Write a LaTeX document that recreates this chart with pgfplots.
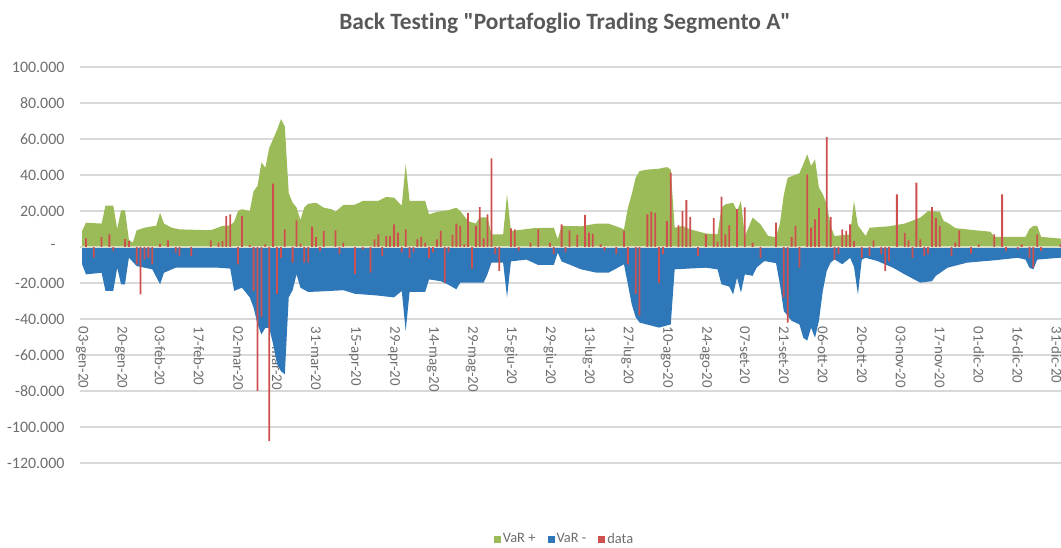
\documentclass[border=0pt]{standalone}
\usepackage{fontspec}
\setmainfont{Carlito}[Ligatures={TeXOff,NoCommon}]
\usepackage{pgfplots}
\usepackage{pgfplotstable}
\pgfplotsset{compat=1.18}
\definecolor{vgreen}{RGB}{155,187,89}
\definecolor{vblue}{RGB}{46,120,185}
\definecolor{vred}{RGB}{205,80,78}
\definecolor{tgrey}{RGB}{89,89,89}
\definecolor{lgrey}{RGB}{110,110,110}
\definecolor{ggrey}{RGB}{217,217,217}
\definecolor{zline}{RGB}{215,222,200}

\pgfplotstableread{
i v
0 8.9
1 13.5
5 13
6 23
8 23
9 10
10 20.4
11 20.4
12 4
13 2.4
14 9.3
16 10.7
18 11.5
19 11.7
20 19
21 13
23 10.7
25 9.8
33 9.3
36 11.7
38 12
39 14
40 20
41 21
43 20
44 31
45 34
46 47
47 44
48 55
49 60
50 65
51 71
52 67
53 30
54 24.6
55 22
56 15
57 22
58 24
60 24.6
62 21.8
64 21
65 19.6
67 23.3
70 23.5
72 25.6
76 25.6
78 27.8
80 27.4
82 23
83 46
84 25.6
88 25.6
89 18.1
91 19.5
94 20.5
96 21.8
97 20
99 14.4
101 13
102 16.5
104 16.5
105 7
108 7
109 29.3
110 8.9
116 10.5
121 10.7
122 4.3
123 11.7
128 11.5
132 13
135 13
138 10.7
139 9.8
140 21.8
141 29.3
142 38.5
143 42.2
145 43
148 43.5
150 44.4
151 43
152 10.7
154 11.7
156 9.8
160 7.5
163 7
164 21.8
165 23.7
167 24.6
168 20
169 25.6
170 6
172 16.3
174 12.6
176 6.1
178 5.5
179 13
180 29
181 38.5
184 41
185 46
186 51.5
187 45
188 48.7
189 33
190 29.3
191 23.7
192 11.7
193 6.1
197 7
198 25.6
199 12
201 6.1
202 10.7
207 11.5
211 13
215 16.3
217 20
220 19.6
221 14.4
222 13.5
224 10.5
229 9.3
233 8.5
234 5.6
242 5.6
243 10
244 11.7
245 11.7
246 5.6
253 4.3
}\varplus

\pgfplotstableread{
i v
0 -9.6
1 -15.2
5 -14.3
6 -24.4
8 -24.4
9 -11.5
10 -20.7
11 -20.7
12 -5.9
14 -10.6
18 -12.4
20 -20.7
21 -14.3
24 -11.5
35 -11.5
38 -12
39 -24.4
41 -22.6
43 -28
44 -33.7
45 -43
46 -48.5
47 -45
48 -45
49 -54
50 -65
51 -69
52 -70.7
53 -28
54 -24
55 -15.2
56 -22.6
58 -25
63 -24.5
67 -24
70 -26
76 -27
80 -28
82 -24.4
83 -46.7
84 -25
88 -25
89 -18
92 -19
94 -21
96 -23.5
97 -19.8
103 -19.8
104 -15
105 -8.7
108 -8.7
109 -28
110 -8
114 -7
117 -10
121 -10
122 -3.1
123 -8
128 -12.4
132 -14.3
135 -14.3
137 -12
139 -9.6
140 -20.7
141 -32
142 -39
143 -42
148 -44.8
151 -43
152 -12.4
160 -11.5
163 -12.4
164 -20.7
166 -22
167 -26.3
168 -17
169 -25.4
170 -15.2
172 -16
173 -11.5
175 -7.8
178 -9
179 -20.7
180 -35.6
182 -41
184 -43
185 -50.4
186 -52
187 -44.8
188 -50.4
189 -41
190 -24.4
191 -13.3
192 -8.7
193 -6.9
195 -9.6
197 -6
198 -11
199 -26.3
200 -7
201 -6
204 -7.8
208 -11.5
211 -15.2
215 -19.8
218 -19
219 -16
222 -11.5
227 -8.7
234 -7.4
240 -6
242 -7
243 -11.5
244 -12.4
245 -7
253 -5.6
}\varminus

\pgfplotstableread{
i v
1 4.8
3 -5.9
5 5.6
7 7
8 -2.2
11 4.4
12 3.3
14 -9.6
15 -26.3
16 -6.9
17 -5.9
18 -9.6
20 1.8
22 3.7
24 -3.1
25 -5
28 -5
33 3.7
35 2.4
36 3.3
37 17.2
38 18.1
40 -9.6
41 17.2
43 1.1
44 -24.4
45 -80
46 -39
47 1.5
48 -107.8
49 35.2
50 -26
51 -6
52 9.8
54 -8.7
55 14.8
56 1.9
57 -8.7
58 -8.7
59 11.3
60 5.6
61 -2.2
62 8.9
65 9.3
66 -4
67 2.4
70 -15
72 -1.5
74 -14.3
75 4.3
76 7
77 -5
78 6.1
79 6.1
80 12.6
81 8
82 -3
83 9.8
84 -6
85 -3
86 4.3
87 5.6
88 2.4
89 -6
90 -3
91 4.3
92 8.9
93 -19.8
94 -3
95 6.7
96 13
97 11.7
98 1.5
99 19
100 -12
101 11.7
102 22.2
103 4.8
104 18.1
105 49.3
106 -4
107 -13.3
110 10.4
111 9.8
112 -2.2
115 2.4
117 9.8
120 2.4
121 -4
123 12.6
124 -3
125 9.3
127 6.7
129 17.8
130 8
131 7.4
133 1.5
134 -2.2
137 -4
139 8.9
140 -9.6
142 -26
143 -38
145 18.1
146 19.6
147 18.9
148 -20
149 -4
150 14.4
151 41.3
153 12
154 20
155 26
156 16.7
158 -5
160 7
162 16
163 3
164 28
165 7
166 12
168 21
170 22
172 2.4
174 -6
178 13.5
180 -28
181 -42
182 5.6
183 11.7
184 -11.5
186 40.4
187 10.7
188 15.4
189 21.8
191 61.1
192 16.7
193 -7
194 -4
195 9.8
196 8.9
197 12.6
198 3.3
200 -6
202 -5
203 3.7
205 -4
206 -13.3
207 -7.8
209 29.3
211 7.8
212 3.7
213 -6
214 35.7
215 4.3
216 -5
217 -4
218 22.2
219 16
220 11.7
223 -5
224 2.4
225 9.3
228 -3.7
230 1.5
234 7
236 29.3
237 -2.2
240 -1.3
241 1.5
243 -6
244 -11.5
245 7
246 -2.2
251 1.5
}\datab

\begin{document}
\begin{tikzpicture}
\begin{axis}[
  at={(80bp,85bp)}, anchor=south west,
  scale only axis, width=981bp, height=396bp,
  xmin=-0.54, xmax=251.1, ymin=-120, ymax=100,
  axis line style={draw=none},
  major tick length=0pt,
  ytick={-120,-100,...,100},
  yticklabels={-120.000,-100.000,-80.000,-60.000,-40.000,-20.000,{-\hspace*{9bp}},20.000,40.000,60.000,80.000,100.000},
  xtick={0,10,...,250},
  xticklabels={03-gen-20,20-gen-20,03-feb-20,17-feb-20,02-mar-20,17-mar-20,31-mar-20,15-apr-20,29-apr-20,14-mag-20,29-mag-20,15-giu-20,29-giu-20,13-lug-20,27-lug-20,10-ago-20,24-ago-20,07-set-20,21-set-20,06-ott-20,20-ott-20,03-nov-20,17-nov-20,01-dic-20,16-dic-20,31-dic-20},
  ymajorgrids, grid style={draw=ggrey, line width=1.2bp},
  tick label style={text=lgrey},
  xticklabel style={rotate=-90, anchor=west, font=\fontsize{15}{17}\selectfont},
  yticklabel style={font=\fontsize{16}{18}\selectfont},
  xticklabel shift=-140bp,
  yticklabel shift=12bp,
  legend style={at={(0.494,-0.192)}, anchor=center, draw=none, fill=none,
    font=\color{lgrey}\fontsize{14.5}{16}\selectfont, legend columns=-1,
    /tikz/every even column/.append style={column sep=10bp}},
]
\addplot[fill=vgreen, draw=none,
  legend image code/.code={\fill[vgreen] (0bp,-3.5bp) rectangle (7bp,3.5bp);}]
  table[x=i,y=v] {\varplus} \closedcycle;
\addlegendentry{VaR +}
\addplot[fill=vblue, draw=none,
  legend image code/.code={\fill[vblue] (0bp,-3.5bp) rectangle (7bp,3.5bp);}]
  table[x=i,y=v] {\varminus} \closedcycle;
\addlegendentry{VaR -}
\addplot[draw=zline, line width=1.2bp, forget plot] coordinates {(-1,0) (253,0)};
\addplot[ybar, bar width=1.8bp, fill=vred, draw=none,
  legend image code/.code={\fill[vred] (0bp,-3.5bp) rectangle (7bp,3.5bp);}]
  table[x=i,y=v] {\datab};
\addlegendentry{data}
\end{axis}
\node[font=\fontsize{23.5}{27}\selectfont\bfseries, text=tgrey] at (565bp,525bp) {Back Testing "Portafoglio Trading Segmento A"};
\pgfresetboundingbox
\useasboundingbox (0bp,0bp) rectangle (1061bp,548bp);
\end{tikzpicture}
\end{document}
